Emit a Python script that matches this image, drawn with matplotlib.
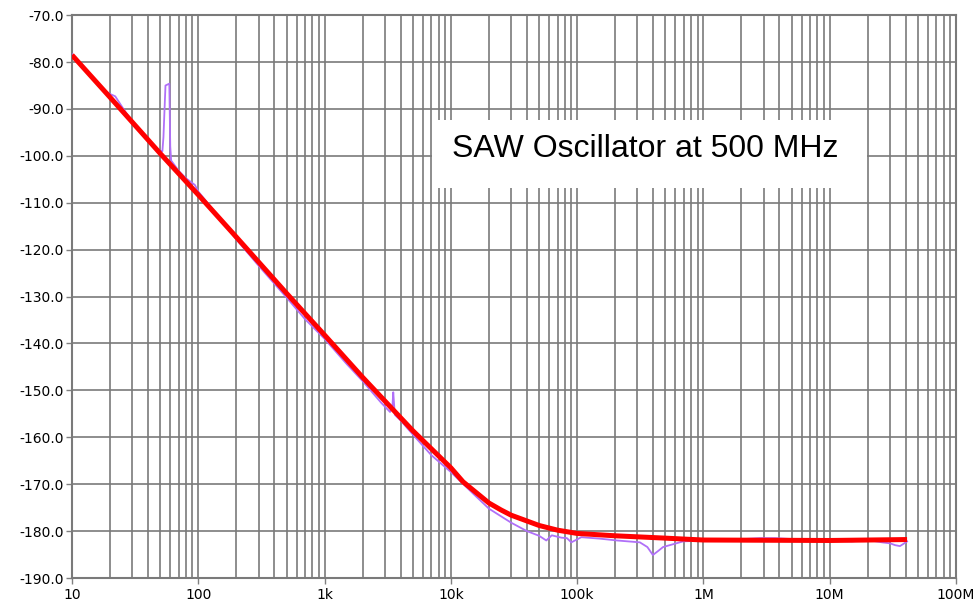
import matplotlib
matplotlib.use("Agg")
import matplotlib.pyplot as plt
from matplotlib.patches import Rectangle
from matplotlib.ticker import LogLocator, FixedLocator, NullFormatter

# model curve (red)
model_freq = [10, 20, 50, 100, 200, 500, 1e3, 2e3, 5e3, 1e4, 1.25e4, 2e4, 2.5e4,
              3e4, 5e4, 7e4, 1e5, 2e5, 5e5, 7e5, 1e6, 1e7, 4.1e7]
model_dbc = [-78.5, -87.5, -99.5, -108.3, -117.3, -129.3, -138.2, -147.2, -158.6,
             -166.5, -169.5, -174.0, -175.5, -176.6, -178.8, -179.8, -180.5,
             -181.0, -181.5, -181.7, -181.9, -182.0, -181.8]

# measured phase noise (purple)
meas_freq = [10, 13, 16.6, 20, 22, 25, 30, 40, 48, 52, 53, 55, 59, 60, 61, 70, 80,
             94, 100, 120, 150, 200, 300, 500, 700, 1e3, 1.5e3, 2e3, 2.8e3, 3.3e3,
             3.45e3, 3.5e3, 3.6e3, 4e3, 5e3, 7e3, 1e4, 1.5e4, 2e4, 3e4, 4e4,
             5e4, 5.7e4, 6.3e4, 7.5e4, 8.3e4, 9e4, 1.08e5, 1.5e5, 2.07e5, 3.14e5,
             3.6e5, 3.98e5, 4.4e5, 4.79e5, 6.9e5, 1e6, 1.5e6, 2.8e6, 3.7e6, 6e6,
             1e7, 1.5e7, 2e7, 2.6e7, 3e7, 3.3e7, 3.6e7, 3.9e7, 4.1e7]
meas_dbc = [-78.3, -81.8, -85.4, -86.8, -87.3, -89.6, -92.8, -96.6, -98.8, -99.0,
            -96.0, -85.0, -84.6, -98.0, -101.0, -103.2, -104.8, -106.2, -107.6,
            -110.2, -113.6, -117.8, -123.4, -130.2, -134.8, -139.0, -144.4,
            -148.0, -152.6, -154.6, -153.2, -150.4, -155.2, -156.4, -159.4,
            -163.8, -167.4, -172.0, -175.2, -178.2, -180.0, -181.0, -182.0,
            -180.9, -181.4, -181.5, -182.4, -181.3, -181.6, -182.0, -182.4,
            -183.4, -185.1, -184.2, -183.4, -182.2, -182.0, -181.9, -181.5,
            -181.5, -181.8, -182.0, -182.2, -181.9, -182.4, -182.6, -183.0,
            -183.2, -182.6, -182.2]

x_ticks = [10, 100, 1e3, 1e4, 1e5, 1e6, 1e7, 1e8]
x_labels = ["10", "100", "1k", "10k", "100k", "1M", "10M", "100M"]
y_ticks = list(range(-190, -69, 10))
y_labels = ["%.1f" % v for v in y_ticks]

fig = plt.figure(figsize=(9.74, 6.06), dpi=100)
ax = fig.add_axes([0.0739, 0.0462, 0.9076, 0.9288])

ax.plot(meas_freq, meas_dbc, color="#b070f8", lw=1.3, zorder=3)
ax.plot(model_freq, model_dbc, color="#ff0000", lw=3.6, zorder=4,
        solid_capstyle="butt")

ax.set_xscale("log")
ax.set_xlim(10, 1e8)
ax.set_ylim(-190, -70)

ax.xaxis.set_major_locator(FixedLocator(x_ticks))
ax.set_xticklabels(x_labels)
ax.xaxis.set_minor_locator(LogLocator(base=10, subs=range(2, 10), numticks=20))
ax.xaxis.set_minor_formatter(NullFormatter())
ax.set_yticks(y_ticks)
ax.set_yticklabels(y_labels)

ax.grid(True, which="major", color="#7a7a7a", lw=1.2)
ax.grid(True, which="minor", axis="x", color="#7a7a7a", lw=1.2)
ax.set_axisbelow(True)

ax.tick_params(axis="x", which="major", direction="out", length=4, width=1,
               color="#808080", labelsize=10, pad=3)
ax.tick_params(axis="x", which="minor", length=0)
ax.tick_params(axis="y", direction="out", length=4, width=1,
               color="#808080", labelsize=10, pad=2)
for s in ax.spines.values():
    s.set_color("#7a7a7a")
    s.set_linewidth(1.5)

ax.add_patch(Rectangle((0.407, 0.6927), 0.492, 0.1208, transform=ax.transAxes,
                       facecolor="white", edgecolor="none", zorder=5))
ax.text(0.648, 0.762, "SAW Oscillator at 500 MHz", transform=ax.transAxes,
        ha="center", va="center", fontsize=23, family="Liberation Sans",
        zorder=6)

fig.savefig("out.png", dpi=100)
